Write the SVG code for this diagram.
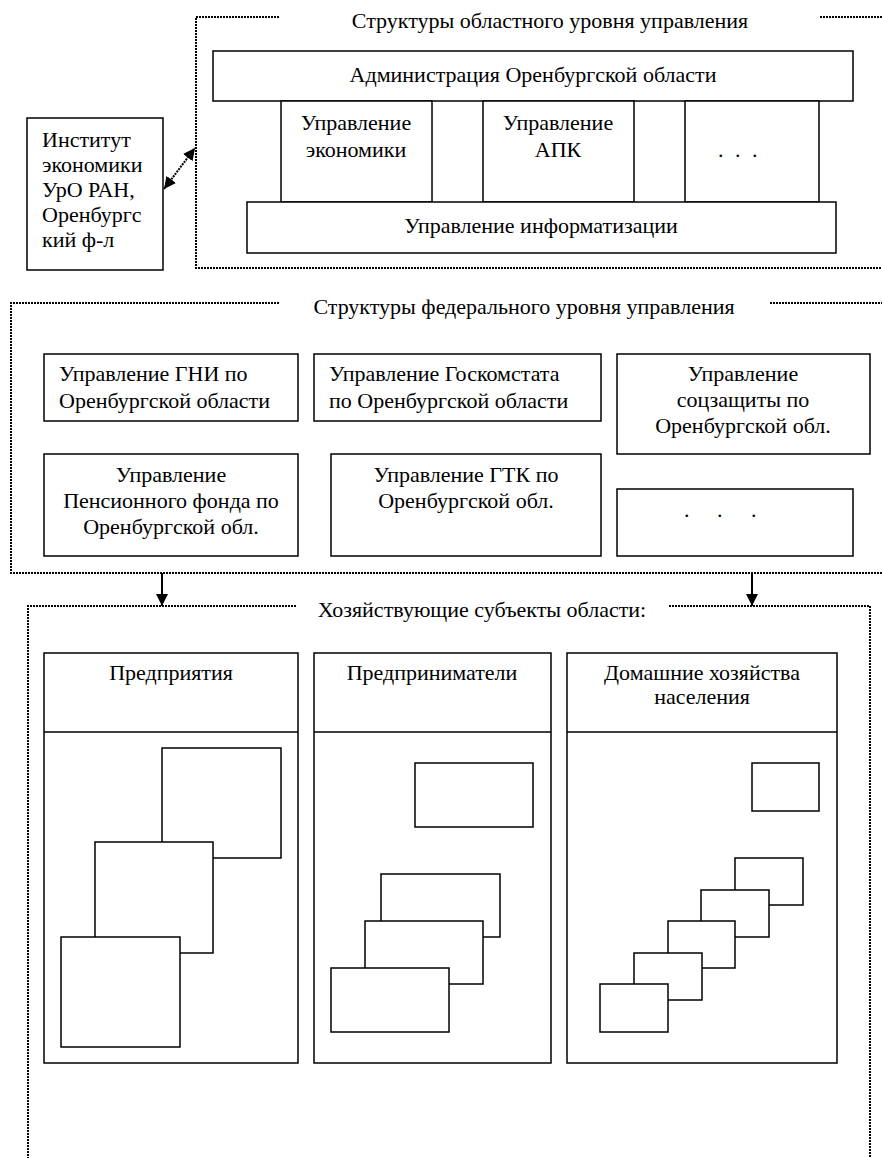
<svg xmlns="http://www.w3.org/2000/svg" width="882" height="1158" viewBox="0 0 882 1158" font-family="Liberation Serif, DejaVu Serif, serif" font-size="22">
<style>
.c{text-anchor:middle}
.b{fill:#fff;stroke:#000;stroke-width:1.5}
.ln{fill:none;stroke:#000;stroke-width:1.5}
.frame{fill:none;stroke:#000;stroke-width:2;stroke-dasharray:2 1}
.conn{fill:none;stroke:#000;stroke-width:2}
</style>
<defs>
<marker id="ah" viewBox="0 0 10 10" refX="10" refY="5" markerWidth="6" markerHeight="6" markerUnits="strokeWidth" orient="auto-start-reverse">
<path d="M0,0 L10,5 L0,10 Z" fill="#000"/>
</marker>
</defs>
<rect width="882" height="1158" fill="#fff"/>

<g id="frame-regional">
<path class="frame" d="M279,17 H196 V268 H882 M820,17 H882"/>
<text class="c" x="550" y="28">Структуры областного уровня управления</text>
</g>
<g id="admin">
<rect class="b" x="213" y="51" width="640" height="50"/>
<text class="c" x="533" y="82">Администрация Оренбургской области</text>
</g>
<g id="upr-econ">
<rect class="b" x="281" y="101" width="151" height="101"/>
<text class="c" x="356" y="130">Управление</text>
<text class="c" x="356" y="157">экономики</text>
</g>
<g id="upr-apk">
<rect class="b" x="483" y="101" width="151" height="101"/>
<text class="c" x="558" y="130">Управление</text>
<text class="c" x="558" y="157">АПК</text>
</g>
<g id="upr-etc">
<rect class="b" x="685" y="101" width="134" height="101"/>
<text x="718 735 752" y="157">...</text>
</g>
<g id="upr-inform">
<rect class="b" x="247" y="202" width="589" height="51"/>
<text class="c" x="541" y="233">Управление информатизации</text>
</g>
<g id="institute">
<rect class="b" x="27" y="118" width="136" height="152"/>
<text x="42" y="147">Институт</text>
<text x="42" y="172">экономики</text>
<text x="42" y="197">УрО РАН,</text>
<text x="42" y="222">Оренбургс</text>
<text x="42" y="247">кий  ф-л</text>
</g>

<g id="frame-federal">
<path class="frame" d="M279,303 H11 V573 H882 M770,303 H882"/>
<text class="c" x="524" y="314">Структуры федерального уровня управления</text>
</g>
<g id="gni">
<rect class="b" x="44" y="354" width="254" height="67"/>
<text x="59" y="381">Управление ГНИ по</text>
<text x="59" y="408">Оренбургской области</text>
</g>
<g id="goskomstat">
<rect class="b" x="314" y="354" width="287" height="67"/>
<text x="329" y="381">Управление Госкомстата</text>
<text x="329" y="408">по Оренбургской области</text>
</g>
<g id="soczashita">
<rect class="b" x="617" y="354" width="253" height="100"/>
<text class="c" x="743" y="381">Управление</text>
<text class="c" x="743" y="407">соцзащиты по</text>
<text class="c" x="743" y="433">Оренбургской обл.</text>
</g>
<g id="pension">
<rect class="b" x="44" y="454" width="254" height="102"/>
<text class="c" x="171" y="482">Управление</text>
<text class="c" x="171" y="508">Пенсионного фонда по</text>
<text class="c" x="171" y="534">Оренбургской обл.</text>
</g>
<g id="gtk">
<rect class="b" x="331" y="454" width="270" height="102"/>
<text class="c" x="466" y="482">Управление ГТК по</text>
<text class="c" x="466" y="508">Оренбургской обл.</text>
</g>
<g id="fed-etc">
<rect class="b" x="617" y="489" width="236" height="67"/>
<text x="684 717 751" y="517">...</text>
</g>

<g id="frame-subjects">
<path class="frame" d="M296,606 H28 V1158 M669,606 H870 V1158"/>
<text class="c" x="482" y="617">Хозяйствующие субъекты области:</text>
</g>
<g id="predpriyatiya">
<rect class="b" x="44" y="653" width="254" height="410"/>
<line class="ln" x1="44" y1="732" x2="298" y2="732"/>
<text class="c" x="171" y="680">Предприятия</text>
<rect class="b" x="162" y="748" width="119" height="110"/>
<rect class="b" x="95" y="842" width="118" height="111"/>
<rect class="b" x="61" y="937" width="119" height="110"/>
</g>
<g id="predprinimateli">
<rect class="b" x="314" y="653" width="237" height="410"/>
<line class="ln" x1="314" y1="732" x2="551" y2="732"/>
<text class="c" x="432" y="680">Предприниматели</text>
<rect class="b" x="415" y="763" width="118" height="64"/>
<rect class="b" x="381" y="874" width="119" height="63"/>
<rect class="b" x="365" y="921" width="118" height="63"/>
<rect class="b" x="331" y="968" width="118" height="64"/>
</g>
<g id="domhoz">
<rect class="b" x="567" y="653" width="270" height="410"/>
<line class="ln" x1="567" y1="732" x2="837" y2="732"/>
<text class="c" x="702" y="680">Домашние хозяйства</text>
<text class="c" x="702" y="704">населения</text>
<rect class="b" x="752" y="763" width="67" height="48"/>
<rect class="b" x="735" y="858" width="68" height="47"/>
<rect class="b" x="701" y="890" width="68" height="47"/>
<rect class="b" x="668" y="921" width="67" height="47"/>
<rect class="b" x="634" y="953" width="68" height="47"/>
<rect class="b" x="600" y="984" width="68" height="48"/>
</g>

<g id="connectors">
<line class="conn" x1="164" y1="189" x2="195" y2="148" stroke-dasharray="2 1" marker-start="url(#ah)" marker-end="url(#ah)"/>
<line class="conn" x1="162" y1="573" x2="162" y2="606" marker-end="url(#ah)"/>
<line class="conn" x1="752" y1="573" x2="752" y2="606" marker-end="url(#ah)"/>
</g>
</svg>
